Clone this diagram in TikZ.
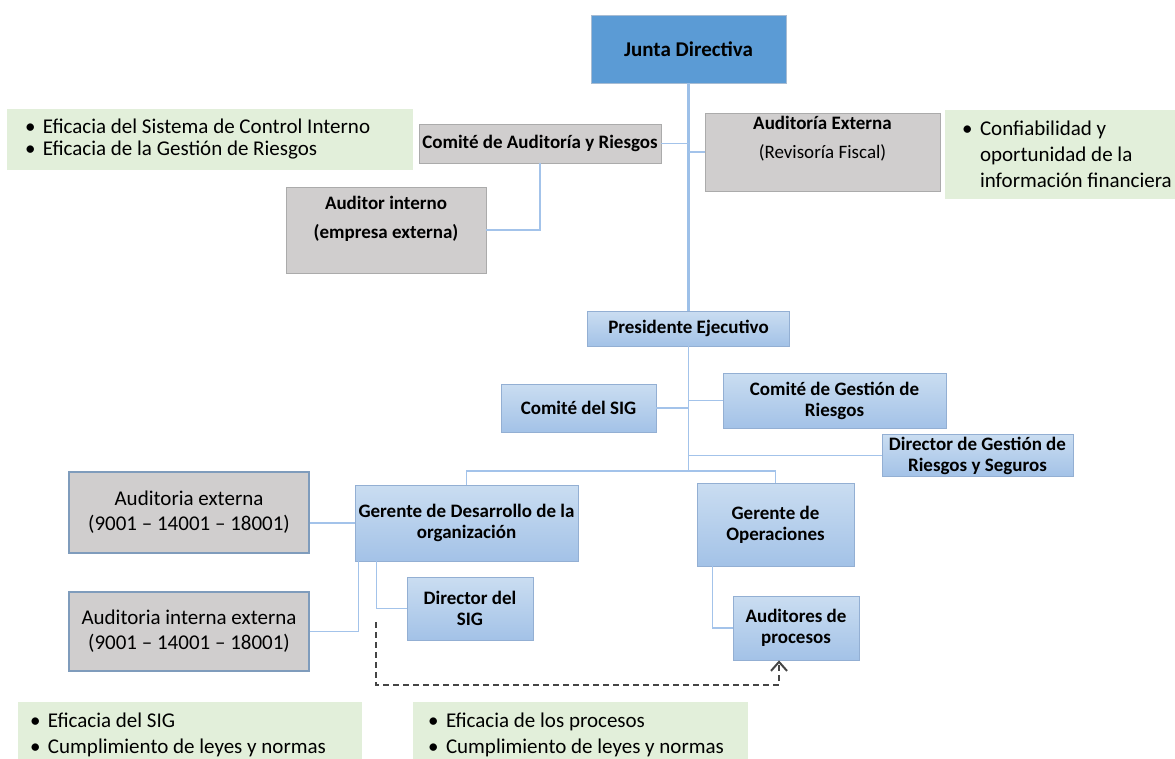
\documentclass[tikz,border=0pt]{standalone}
\usepackage{fontspec}
\setmainfont{Carlito}
\usepackage{tikz}
\usetikzlibrary{arrows.meta}

\definecolor{juntablue}{HTML}{5B9BD5}
\definecolor{juntarim}{HTML}{A7BCD3}
\definecolor{boxtop}{HTML}{CADDF1}
\definecolor{boxbottom}{HTML}{A3C2E7}
\definecolor{bluerim}{HTML}{93AFD3}
\definecolor{boxgray}{HTML}{D0CECE}
\definecolor{grayrim}{HTML}{ABABAB}
\definecolor{auditrim}{HTML}{7F9CBC}
\definecolor{notegreen}{HTML}{E2EFDA}
\definecolor{linkblue}{HTML}{A3C3EA}
\definecolor{trunkblue}{HTML}{9DC0E8}
\definecolor{dashgray}{HTML}{454545}

\def\bul{\makebox[18pt][l]{•}}
\def\ind{\hspace*{18pt}}

\begin{document}
\begin{tikzpicture}[x=1pt,y=-1pt]
	\tikzstyle{box}=[rectangle, inner sep=2pt, align=center, line width=0.8pt, font=\fontsize{19}{21}\selectfont\bfseries]
	\tikzstyle{blue box}=[box, draw=bluerim, top color=boxtop, bottom color=boxbottom]
	\tikzstyle{gray box}=[box, draw=grayrim, fill=boxgray]
	\tikzstyle{audit box}=[box, draw=auditrim, fill=boxgray, line width=2pt, font=\fontsize{21}{25}\selectfont]
	\tikzstyle{note}=[fill=notegreen, align=flush left, font=\fontsize{21}{26}\selectfont]
	\tikzstyle{link}=[draw=linkblue, line width=1.6pt]
	\tikzstyle{trunk}=[draw=trunkblue, line width=3pt]
	\tikzstyle{dash link}=[draw=dashgray, line width=2pt, dash pattern=on 6pt off 4pt, -{Straight Barb[length=9pt,width=16pt]}]

	\useasboundingbox (0,0) rectangle (1175,759);

	% Draw the board and the committees above the president
	\node[box, draw=juntarim, fill=juntablue, minimum width=195pt, minimum height=68pt, font=\fontsize{21}{24}\selectfont\bfseries] (junta) at (688.5,49) {Junta Directiva};
	\node[gray box, minimum width=242pt, minimum height=39pt] (comite-ar) at (540,143.5) {Comité de Auditoría y Riesgos};
	\node[gray box, minimum width=235pt, minimum height=78pt] (aud-ext) at (822.5,152) {Auditoría Externa\\[8pt]\mdseries (Revisoría Fiscal)\\[2pt]\strut};
	\node[gray box, minimum width=200pt, minimum height=86pt] (aud-int) at (386,230) {Auditor interno\\[8pt](empresa externa)\\[-2pt]\strut};

	% Draw the green notes
	\node[note, inner xsep=18pt, text width=370pt, minimum height=61pt, font=\fontsize{21}{22}\selectfont] (note-car) at (210,139.5) {\bul Eficacia del Sistema de Control Interno\\\bul Eficacia de la Gestión de Riesgos};
	\node[note, inner xsep=17pt, text width=220pt, minimum height=89pt] (note-ext) at (1072,154.5) {\bul Confiabilidad y\\\ind oportunidad de la\\\ind información financiera};
	\node[note, inner xsep=12pt, text width=320pt, minimum height=66pt] (note-sig) at (190,735) {\bul Eficacia del SIG\\\bul Cumplimiento de leyes y normas};
	\node[note, inner xsep=15pt, text width=305pt, minimum height=66pt] (note-proc) at (580.5,735) {\bul Eficacia de los procesos\\\bul Cumplimiento de leyes y normas};

	% Draw the president and the units below
	\node[blue box, minimum width=202pt, minimum height=35pt] (pres) at (688.5,328.5) {Presidente Ejecutivo};
	\node[blue box, minimum width=155pt, minimum height=48pt] (comite-sig) at (578.5,408) {Comité del SIG};
	\node[blue box, minimum width=223pt, minimum height=55pt] (comite-gr) at (834.5,400.5) {Comité de Gestión de\\Riesgos};
	\node[blue box, minimum width=191pt, minimum height=39pt] (dir-grs) at (977.5,455.5) {Director de Gestión de\\Riesgos y Seguros};
	\node[blue box, minimum width=223pt, minimum height=76pt] (gdo) at (466.5,523) {Gerente de Desarrollo de la\\organización};
	\node[blue box, minimum width=157pt, minimum height=83pt] (gop) at (775.5,524.5) {Gerente de\\Operaciones};
	\node[blue box, minimum width=126pt, minimum height=63pt] (dir-sig) at (470,608.5) {Director del\\SIG};
	\node[blue box, minimum width=126pt, minimum height=64pt] (aud-proc) at (796,628) {Auditores de\\procesos};

	% Draw the audit boxes of the management system
	\node[audit box, minimum width=240pt, minimum height=81pt] (aud-ext-sig) at (189,512.5) {Auditoria externa\\(9001 – 14001 – 18001)};
	\node[audit box, minimum width=240pt, minimum height=79pt] (aud-int-sig) at (189,631.5) {Auditoria interna externa\\(9001 – 14001 – 18001)};

	\coordinate (bus) at (688.5,471);
	\coordinate (dash-start) at (376,622);
	\coordinate (dash-corner) at (779,685);

	% Connect the board with the president and the committees
	\draw[trunk] (junta.south) -- (pres.north);
	\draw[link] (comite-ar.east) -- (comite-ar.east -| junta.south);
	\draw[link] (aud-ext.west -| junta.south) -- (aud-ext.west);
	\draw[link] (comite-ar.south) |- (aud-int.east);

	% Connect the president with the units
	\draw[link] (pres.south) -- (bus);
	\foreach \name/\side in {comite-sig/east, comite-gr/west, dir-grs/west}
	\draw[link] (\name.\side) -- (\name.\side -| pres.south);
	\draw[link] (gdo.north) -- (gdo.north |- bus) -- (gop.north |- bus) -- (gop.north);

	% Connect the managers with their boxes
	\draw[link] (aud-ext-sig.east |- gdo.west) -- (gdo.west);
	\draw[link] ([xshift=4pt]gdo.south west) |- (aud-int-sig.east);
	\draw[link] ([xshift=22pt]gdo.south west) |- (dir-sig.west);
	\draw[link] ([xshift=16pt]gop.south west) |- (aud-proc.west);
	\draw[dash link] (dash-start) |- (dash-corner) -- (dash-corner |- aud-proc.south);
\end{tikzpicture}
\end{document}
